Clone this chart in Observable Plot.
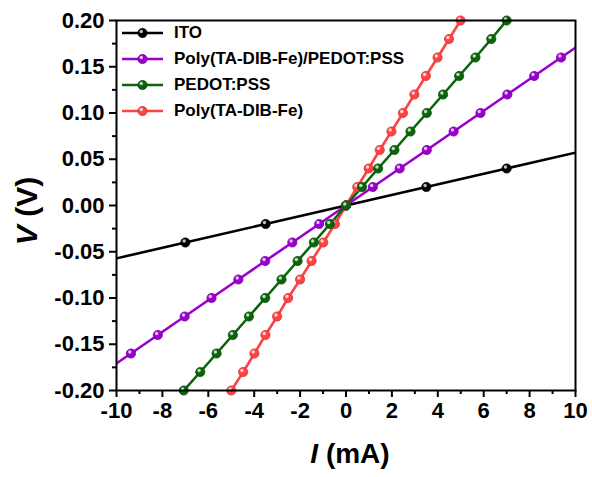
<!DOCTYPE html>
<html><head><meta charset="utf-8">
<script src="https://cdn.jsdelivr.net/npm/d3@7"></script>
<script src="https://cdn.jsdelivr.net/npm/@observablehq/plot@0.6"></script>
<style>
body{margin:0;background:#fff;}
#wrap{position:relative;width:592px;height:477px;font-family:"Liberation Sans",Arial,sans-serif;font-weight:bold;}
#legend{position:absolute;left:121px;top:20px;}
.row{display:flex;align-items:center;height:26.1px;font-size:17px;color:#000;white-space:nowrap;}
.row svg{margin-right:10px;display:block}
</style></head><body><div id="wrap"><div id="legend"></div></div>
<script>
// Series names and colours
const names = ["ITO", "Poly(TA-DIB-Fe)/PEDOT:PSS", "PEDOT:PSS", "Poly(TA-DIB-Fe)"];
const colors = ["#000000", "#9900CC", "#0A640A", "#FF4343"];

// ITO
const V_ITO = [-0.06, -0.04, -0.02, 0, 0.02, 0.04, 0.06];
const I_ITO = [-10.5, -7.0, -3.5, 0, 3.5, 7.0, 10.5];
// Poly(TA-DIB-Fe)/PEDOT:PSS
const V_comp = [-0.18, -0.16, -0.14, -0.12, -0.10, -0.08, -0.06, -0.04, -0.02, 0, 0.02, 0.04, 0.06, 0.08, 0.10, 0.12, 0.14, 0.16, 0.18];
const I_comp = [-10.55, -9.37, -8.2, -7.03, -5.86, -4.69, -3.52, -2.34, -1.17, 0, 1.17, 2.34, 3.52, 4.69, 5.86, 7.03, 8.2, 9.37, 10.55];
// PEDOT:PSS
const V_pedot = [-0.20, -0.18, -0.16, -0.14, -0.12, -0.10, -0.08, -0.06, -0.04, -0.02, 0, 0.02, 0.04, 0.06, 0.08, 0.10, 0.12, 0.14, 0.16, 0.18, 0.20];
const I_pedot = [-7.07, -6.35, -5.64, -4.93, -4.23, -3.52, -2.81, -2.11, -1.40, -0.70, 0, 0.70, 1.40, 2.11, 2.81, 3.52, 4.23, 4.93, 5.64, 6.33, 7.0];
// Poly(TA-DIB-Fe)
const V_poly = [-0.20, -0.18, -0.16, -0.14, -0.12, -0.10, -0.08, -0.06, -0.04, -0.02, 0, 0.02, 0.04, 0.06, 0.08, 0.10, 0.12, 0.14, 0.16, 0.18, 0.20];
const I_poly = [-5.0, -4.48, -3.99, -3.51, -3.0, -2.52, -2.0, -1.5, -0.99, -0.48, 0, 0.49, 0.99, 1.47, 1.98, 2.48, 2.98, 3.48, 3.99, 4.49, 4.99];

// Axis ticks
const xTicks = [-10, -8, -6, -4, -2, 0, 2, 4, 6, 8, 10];
const xMinor = [-9, -7, -5, -3, -1, 1, 3, 5, 7, 9];
const yTicks = [-0.20, -0.15, -0.10, -0.05, 0, 0.05, 0.10, 0.15, 0.20];
const yMinor = [-0.175, -0.125, -0.075, -0.025, 0.025, 0.075, 0.125, 0.175];

const seriesIV = [[I_ITO, V_ITO], [I_comp, V_comp], [I_pedot, V_pedot], [I_poly, V_poly]];
const tables = seriesIV.map(([I, V], k) => I.map((x, i) => ({I: x, V: V[i], s: names[k]})));
const drawOrder = [0, 1, 3, 2];

const inRange = d => Math.abs(d.I) <= 10.05 && Math.abs(d.V) <= 0.2001;
const marks = [];
for (const k of drawOrder) {
  const t = tables[k];
  marks.push(Plot.line(t, {x: "I", y: "V", stroke: colors[k], strokeWidth: 2.6, clip: true}));
}
for (const k of drawOrder) {
  const t = tables[k].filter(inRange);
  marks.push(Plot.dot(t, {x: "I", y: "V", r: 4.6, fill: colors[k], stroke: d3.color(colors[k]).darker(0.6).formatHex(), strokeWidth: 0.8}));
  marks.push(Plot.dot(t, {x: "I", y: "V", r: 1.7, dx: -1.2, dy: -1.5, fill: "white", fillOpacity: 0.75}));
}

const chart = Plot.plot({
  width: 592, height: 477,
  marginLeft: 116, marginRight: 17, marginTop: 20, marginBottom: 87,
  style: {fontFamily: "'Liberation Sans', Arial, sans-serif", fontWeight: "bold", fontSize: "22px", color: "black", background: "white"},
  x: {domain: [-10, 10]},
  y: {domain: [-0.2, 0.2]},
  marks: [
    Plot.axisX(xMinor, {tickSize: 4, strokeWidth: 2, text: null, label: null}),
    Plot.axisX(xTicks, {tickSize: 7, tickPadding: 5, strokeWidth: 2, tickFormat: d => String(d), label: null, fontSize: 22, fill: "black"}),
    Plot.axisY(yMinor, {tickSize: 4, strokeWidth: 2, text: null, label: null}),
    Plot.axisY(yTicks, {tickSize: 7, tickPadding: 5, strokeWidth: 2, tickFormat: d => d.toFixed(2), label: null, fontSize: 22, fill: "black"}),
    ...marks,
    Plot.frame({stroke: "black", strokeWidth: 2})
  ]
});

const svg = d3.select(chart);
const xl = svg.append("text").attr("x", 350).attr("y", 463).attr("text-anchor", "middle")
  .attr("font-size", 28).attr("font-weight", "bold").attr("fill", "black");
xl.append("tspan").attr("font-style", "italic").text("I");
xl.append("tspan").text(" (mA)");
const yl = svg.append("text").attr("transform", "translate(37,211) rotate(-90)").attr("text-anchor", "middle")
  .attr("font-size", 30).attr("font-weight", "bold").attr("fill", "black");
yl.append("tspan").attr("font-style", "italic").text("V");
yl.append("tspan").text(" (V)");

const wrap = document.getElementById("wrap");
wrap.insertBefore(chart, wrap.firstChild);
chart.style.position = "absolute"; chart.style.left = "0"; chart.style.top = "0";

// Legend
const legend = d3.select("#legend");
names.forEach((n, k) => {
  const row = legend.append("div").attr("class", "row");
  const s = row.append("svg").attr("width", 43).attr("height", 12);
  s.append("line").attr("x1", 1).attr("x2", 42).attr("y1", 6).attr("y2", 6).attr("stroke", colors[k]).attr("stroke-width", 2.6);
  s.append("circle").attr("cx", 21.5).attr("cy", 6).attr("r", 4.6).attr("fill", colors[k]).attr("stroke", d3.color(colors[k]).darker(0.6).formatHex()).attr("stroke-width", 0.8);
  s.append("circle").attr("cx", 20.3).attr("cy", 4.5).attr("r", 1.7).attr("fill", "white").attr("fill-opacity", 0.75);
  row.append("span").text(n);
});
</script>
</body></html>
